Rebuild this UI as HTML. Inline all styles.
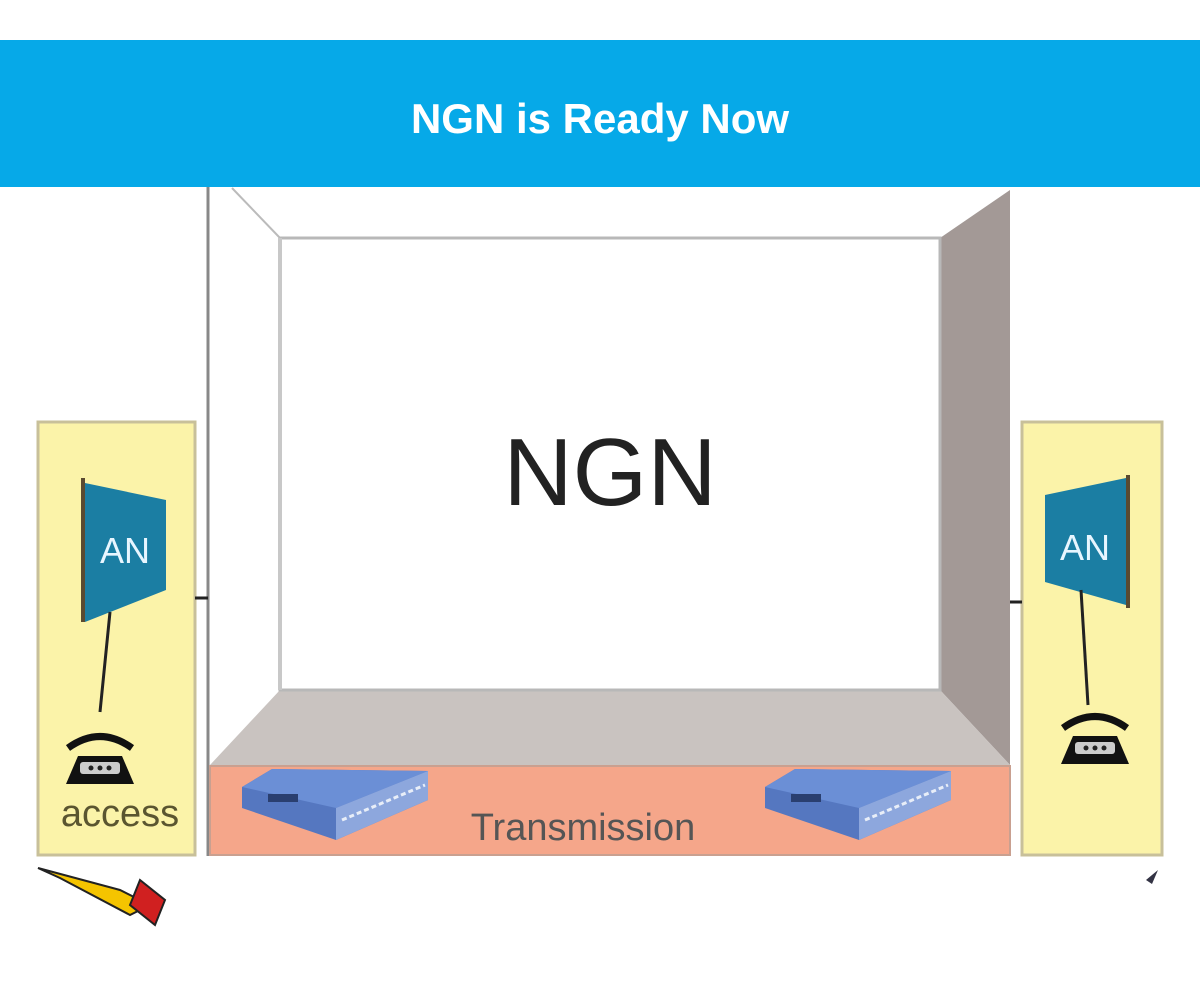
<!DOCTYPE html>
<html><head><meta charset="utf-8"><style>
html,body{margin:0;padding:0;background:#fff;}
svg{display:block;}
text{font-family:"Liberation Sans","DejaVu Sans",sans-serif;}
</style></head><body>
<svg width="1200" height="981" viewBox="0 0 1200 981" xmlns="http://www.w3.org/2000/svg">
<rect width="1200" height="981" fill="#fff"/>
<!-- banner -->
<rect x="0" y="40" width="1200" height="147" fill="#06a9e8"/>
<text x="600" y="133" font-size="42" font-weight="bold" fill="#fff" text-anchor="middle">NGN is Ready Now</text>
<!-- room -->
<line x1="208" y1="187" x2="208" y2="856" stroke="#888" stroke-width="3"/>
<line x1="232" y1="188" x2="280" y2="238" stroke="#bbb" stroke-width="2"/>
<polygon points="940,238 1010,190 1010,765 940,690" fill="#a39996"/>
<polygon points="280,690 940,690 1010,765 210,765" fill="#c9c3c0"/>
<rect x="280" y="238" width="660" height="452" fill="#fff" stroke="#b8b8b8" stroke-width="3"/>
<line x1="280" y1="238" x2="280" y2="690" stroke="#c8c8c8" stroke-width="4"/>
<text x="610" y="505" font-size="96" fill="#222" text-anchor="middle">NGN</text>
<!-- transmission -->
<rect x="210" y="766" width="800" height="89" fill="#f5a68a" stroke="#c9a090" stroke-width="2"/>
<text x="583" y="840" font-size="38" fill="#555" text-anchor="middle">Transmission</text>
<!-- routers -->
<g id="r1">
<polygon points="242,787 272,769 428,771 428,800 336,840 242,808" fill="#5577c0"/>
<polygon points="242,787 336,808 428,771 272,769" fill="#6b8fd6"/>
<polygon points="336,808 428,771 428,800 336,840" fill="#8da7dd"/>
<line x1="342" y1="820" x2="425" y2="785" stroke="#e8eef8" stroke-width="3" stroke-dasharray="5,3"/>
<rect x="268" y="794" width="30" height="8" fill="#2a3f70"/>
</g>
<use href="#r1" transform="translate(523,0)"/>
<!-- left yellow box -->
<rect x="38" y="422" width="157" height="433" fill="#fbf3a9" stroke="#c8c09a" stroke-width="3"/>
<line x1="195" y1="598" x2="208" y2="598" stroke="#222" stroke-width="3"/>
<line x1="83" y1="478" x2="83" y2="622" stroke="#5a4a30" stroke-width="4"/>
<polygon points="85,483 166,500 166,590 85,622" fill="#1b7ea3"/>
<text x="125" y="563" font-size="36" fill="#e8f6ff" text-anchor="middle">AN</text>
<line x1="110" y1="612" x2="100" y2="712" stroke="#222" stroke-width="3"/>
<g id="ph1" transform="translate(100,770)">
<path d="M-32,-22 Q0,-45 32,-22" fill="none" stroke="#111" stroke-width="7"/>
<path d="M-34,14 L-22,-14 L22,-14 L34,14 Z" fill="#111"/>
<rect x="-20" y="-8" width="40" height="12" rx="3" fill="#ccc"/>
<circle cx="-9" cy="-2" r="2.5" fill="#222"/><circle cx="0" cy="-2" r="2.5" fill="#222"/><circle cx="9" cy="-2" r="2.5" fill="#222"/>
</g>
<text x="120" y="826" font-size="38" fill="#5a5530" text-anchor="middle">access</text>
<!-- right yellow box -->
<rect x="1022" y="422" width="140" height="433" fill="#fbf3a9" stroke="#c8c09a" stroke-width="3"/>
<line x1="1010" y1="602" x2="1022" y2="602" stroke="#222" stroke-width="3"/>
<line x1="1128" y1="475" x2="1128" y2="608" stroke="#5a4a30" stroke-width="4"/>
<polygon points="1045,495 1126,478 1126,605 1045,582" fill="#1b7ea3"/>
<text x="1085" y="560" font-size="36" fill="#e8f6ff" text-anchor="middle">AN</text>
<line x1="1081" y1="590" x2="1088" y2="705" stroke="#222" stroke-width="3"/>
<use href="#ph1" transform="translate(995,-20)"/>
<!-- bottom decorations -->
<polygon points="38,868 120,890 150,905 130,915 60,878" fill="#f5c400" stroke="#222" stroke-width="2"/>
<polygon points="140,880 165,900 155,925 130,905" fill="#d02020" stroke="#222" stroke-width="2"/>
<polygon points="1146,880 1158,870 1152,884" fill="#334"/>
</svg>
</body></html>
